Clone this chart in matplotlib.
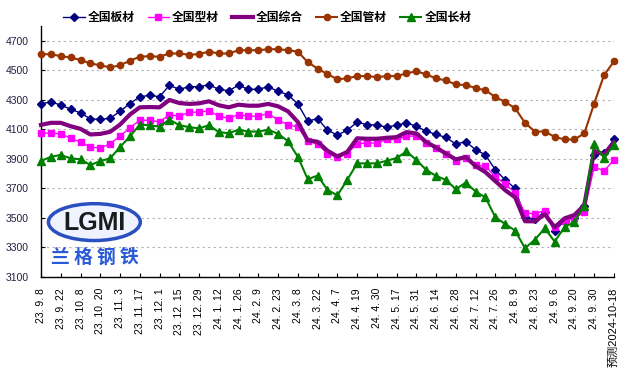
import numpy as np
import matplotlib.pyplot as plt
from matplotlib.patches import Ellipse

plt.rcParams['font.family'] = ['Liberation Sans', 'Noto Sans CJK SC', 'DejaVu Sans']

# 周度价格指数 (59 个点, 每两个点一个标签)
tick_labels = ["23. 9. 8", "23. 9. 22", "23. 10. 8", "23. 10. 20", "23. 11. 3", "23. 11. 17",
               "23. 12. 1", "23. 12. 15", "23. 12. 29", "24. 1. 12", "24. 1. 26", "24. 2. 9",
               "24. 2. 23", "24. 3. 8", "24. 3. 22", "24. 4. 7", "24. 4. 19", "24. 4. 30",
               "24. 5. 17", "24. 5. 31", "24. 6. 14", "24. 6. 28", "24. 7. 12", "24. 7. 26",
               "24. 8. 9", "24. 8. 23", "24. 9. 6", "24. 9. 20", "24. 9. 30", "预测2024-10-18"]

banc = [4275, 4286, 4266, 4237, 4212, 4172, 4168, 4176, 4223, 4275,
        4322, 4331, 4322, 4399, 4372, 4390, 4390, 4403, 4372, 4363,
        4399, 4372, 4372, 4390, 4358, 4336, 4273, 4156, 4174, 4095,
        4062, 4095, 4149, 4133, 4129, 4116, 4129, 4145, 4122, 4088,
        4066, 4046, 4001, 4017, 3963, 3927, 3826, 3758, 3700, 3504,
        3493, 3542, 3410, 3482, 3500, 3580, 3925, 3938, 4032]

xingc = [4075, 4075, 4070, 4041, 4014, 3981, 3974, 4003, 4055, 4111,
         4163, 4161, 4152, 4199, 4190, 4217, 4217, 4228, 4190, 4176,
         4201, 4190, 4190, 4208, 4163, 4133, 4116, 4021, 4001, 3936,
         3913, 3936, 4003, 4008, 4008, 4032, 4032, 4055, 4055, 4008,
         3974, 3933, 3886, 3906, 3857, 3852, 3778, 3731, 3670, 3533,
         3529, 3549, 3437, 3482, 3497, 3542, 3846, 3819, 3893]

zonghe = [4131, 4145, 4145, 4122, 4104, 4066, 4070, 4084, 4133, 4201,
          4250, 4252, 4250, 4300, 4279, 4273, 4277, 4291, 4264, 4250,
          4268, 4261, 4261, 4273, 4257, 4223, 4151, 4026, 4017, 3956,
          3917, 3947, 4040, 4037, 4037, 4043, 4048, 4082, 4073, 4014,
          3978, 3936, 3897, 3913, 3852, 3810, 3750, 3688, 3640, 3478,
          3477, 3526, 3437, 3497, 3520, 3587, 3954, 3931, 4014]

guanc = [4610, 4610, 4597, 4588, 4571, 4548, 4535, 4521, 4535, 4566,
         4593, 4597, 4593, 4615, 4615, 4606, 4611, 4628, 4615, 4615,
         4637, 4637, 4637, 4644, 4644, 4637, 4628, 4556, 4513, 4475,
         4441, 4446, 4462, 4462, 4455, 4462, 4462, 4480, 4495, 4473,
         4446, 4432, 4405, 4401, 4381, 4365, 4320, 4286, 4244, 4145,
         4086, 4086, 4050, 4032, 4032, 4073, 4275, 4468, 4561]

changc = [3886, 3915, 3927, 3904, 3898, 3859, 3886, 3904, 3981, 4053,
          4133, 4128, 4119, 4167, 4129, 4116, 4107, 4129, 4082, 4075,
          4098, 4086, 4086, 4098, 4071, 4021, 3915, 3763, 3787, 3691,
          3653, 3758, 3870, 3870, 3870, 3888, 3906, 3951, 3893, 3826,
          3785, 3758, 3695, 3740, 3679, 3639, 3504, 3459, 3414, 3295,
          3353, 3430, 3340, 3437, 3475, 3580, 4001, 3909, 3993]

x = np.arange(len(banc))

fig = plt.figure(figsize=(6.29, 3.91), dpi=100)
ax = fig.add_axes([0.0652, 0.2916, 0.9108, 0.6414])

ax.plot(x, banc, color='#000080', lw=1, marker='D', ms=4.5, label='全国板材', clip_on=False, zorder=3)
ax.plot(x, xingc, color='#FF00FF', lw=1, marker='s', ms=5, label='全国型材', clip_on=False, zorder=3)
ax.plot(x, zonghe, color='#800080', lw=3, label='全国综合', clip_on=False, zorder=3)
ax.plot(x, guanc, color='#993300', lw=1.5, marker='o', ms=4.5, label='全国管材', clip_on=False, zorder=3)
ax.plot(x, changc, color='#008000', lw=1.5, marker='^', ms=5.5, label='全国长材', clip_on=False, zorder=3)

ax.set_xlim(0, 58)
ax.set_ylim(3100, 4800)
ax.set_yticks(np.arange(3100, 4701, 200))
ax.set_xticks(x[::2])
ax.set_xticklabels(tick_labels, rotation=90, fontsize=7.5, va='top')
ax.get_xticklabels()[-1].set_fontsize(8)
for t in ax.get_yticklabels():
    t.set_fontsize(7.5)
    t.set_color('#202040')
ax.tick_params(axis='both', direction='in', length=3, width=0.8)
ax.tick_params(axis='y', pad=9)
ax.tick_params(axis='x', pad=8)

ax.yaxis.grid(True, linestyle=(0, (2, 3)), color='#b0b0b0', lw=0.8)
ax.set_axisbelow(True)
for s in ['top', 'right']:
    ax.spines[s].set_visible(False)
for s in ['left', 'bottom']:
    ax.spines[s].set_linewidth(1)

leg = fig.legend(loc='center', bbox_to_anchor=(0.425, 0.956), ncol=5, frameon=False,
                 handlelength=1.8, handletextpad=0.25, columnspacing=1.1,
                 prop={'family': 'Noto Sans CJK SC', 'weight': 'bold', 'size': 8.5})

# 兰格钢铁 logo
ax.add_patch(Ellipse((5.4, 3472), 9.3, 250, facecolor='#eef3ff', edgecolor='#2a4fc0', lw=2.5, zorder=4))
ax.text(5.4, 3468, 'LGMI', ha='center', va='center', fontsize=18, fontweight='bold',
        color='#1a1a1a', zorder=5)
ax.text(5.5, 3232, '兰 格 钢 铁', ha='center', va='center', fontsize=13.5, fontweight='bold',
        color='#2a5ad8', family='Noto Sans CJK SC', zorder=5)

fig.savefig('out.png', dpi=100)
